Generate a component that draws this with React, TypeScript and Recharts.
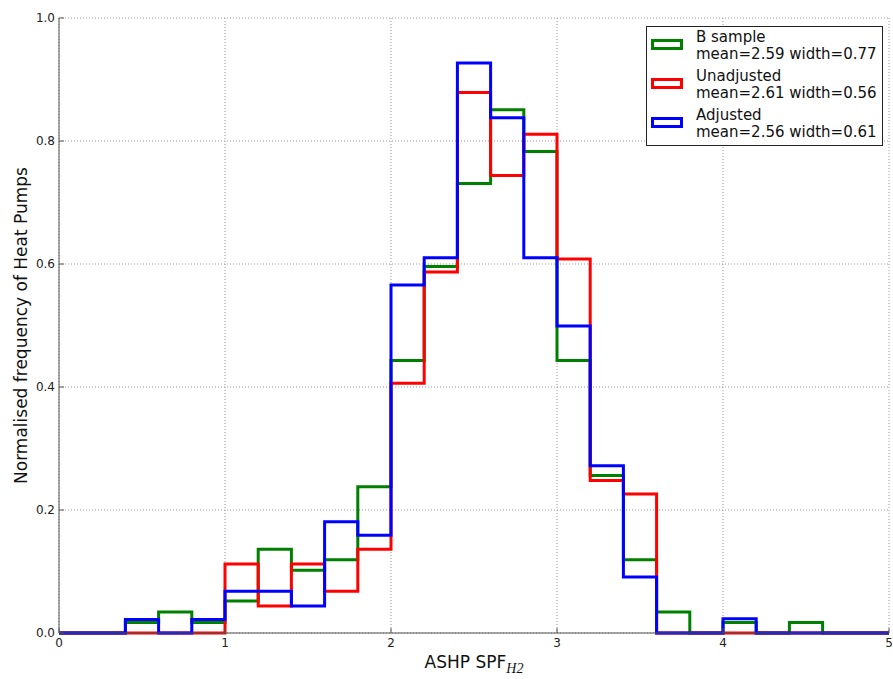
import {
  ComposedChart, Line, XAxis, YAxis, CartesianGrid, Legend,
} from 'recharts'

// bin edges of the histogram (last point closes the final bin)
const BIN_EDGES = [
  0, 0.2, 0.4, 0.6, 0.8, 1.0, 1.2, 1.4, 1.6, 1.8, 2.0, 2.2, 2.4,
  2.6, 2.8, 3.0, 3.2, 3.4, 3.6, 3.8, 4.0, 4.2, 4.4, 4.6, 4.8, 5.0,
]

// normalised frequency per bin
const B_SAMPLE = [
  0, 0, 0.017, 0.034, 0.017, 0.052, 0.136, 0.102, 0.119, 0.238,
  0.443, 0.596, 0.731, 0.851, 0.783, 0.443, 0.256, 0.119, 0.034, 0,
  0.017, 0, 0.017, 0, 0, 0,
]
const UNADJUSTED = [
  0, 0, 0, 0, 0, 0.112, 0.044, 0.112, 0.068, 0.136,
  0.406, 0.587, 0.879, 0.744, 0.811, 0.608, 0.248, 0.226, 0, 0,
  0, 0, 0, 0, 0, 0,
]
const ADJUSTED = [
  0, 0, 0.022, 0, 0.022, 0.068, 0.068, 0.044, 0.181, 0.159,
  0.566, 0.610, 0.927, 0.838, 0.610, 0.499, 0.272, 0.091, 0, 0,
  0.023, 0, 0, 0, 0, 0,
]

const X_TICKS = [0, 1, 2, 3, 4, 5]
const Y_TICKS = [0, 0.2, 0.4, 0.6, 0.8, 1.0]

const SERIES = [
  { key: 'bSample', name: 'B sample', stats: 'mean=2.59 width=0.77', color: '#008000', values: B_SAMPLE },
  { key: 'unadjusted', name: 'Unadjusted', stats: 'mean=2.61 width=0.56', color: '#ff0000', values: UNADJUSTED },
  { key: 'adjusted', name: 'Adjusted', stats: 'mean=2.56 width=0.61', color: '#0000ff', values: ADJUSTED },
]

const data = BIN_EDGES.map((x, i) => ({
  x,
  ...Object.fromEntries(SERIES.map(s => [s.key, s.values[i]])),
}))

const FONT = '"DejaVu Sans", sans-serif'
const FRAME = '#555'

function XLabel({ viewBox }: any) {
  const cx = viewBox.x + viewBox.width / 2
  return (
    <text x={cx} y={668} textAnchor="middle" fontFamily={FONT} fontSize={17} fill="#111">
      ASHP SPF
      <tspan fontFamily='"Liberation Serif", serif' fontStyle="italic" fontSize={14} dy={5}>H2</tspan>
    </text>
  )
}

function YLabel() {
  return (
    <text
      x={21} y={325.5}
      transform="rotate(-90, 21, 325.5)"
      textAnchor="middle" dominantBaseline="central"
      fontFamily={FONT} fontSize={17} fill="#111"
    >
      Normalised frequency of Heat Pumps
    </text>
  )
}

function LegendBox() {
  return (
    <div style={{
      boxSizing: 'border-box', width: 237, height: 120,
      border: '1px solid #222', background: '#fff', position: 'relative',
      fontFamily: FONT, fontSize: 15, lineHeight: '16.6px', color: '#111',
    }}>
      {SERIES.map((s, i) => (
        <div key={s.key} style={{ position: 'absolute', left: 0, top: 2.2 + i * 39, width: '100%' }}>
          <div style={{
            position: 'absolute', left: 4, top: 10, width: 32, height: 11,
            boxSizing: 'border-box', border: `3px solid ${s.color}`,
          }} />
          <div style={{ position: 'absolute', left: 49, top: 0, whiteSpace: 'nowrap' }}>
            <div>{s.name}</div>
            <div>{s.stats}</div>
          </div>
        </div>
      ))}
    </div>
  )
}

export default function App() {
  return (
    <div style={{ position: 'absolute', left: 0, top: 0, width: 893, height: 679, background: '#fff' }}>
      <ComposedChart width={893} height={679} data={data} margin={{ top: 18, right: 4, bottom: 0, left: 0 }}>
        <CartesianGrid stroke="#999" strokeDasharray="1 2" />
        <XAxis
          dataKey="x" type="number" domain={[0, 5]} ticks={X_TICKS}
          height={46} tickSize={-5} tickMargin={10}
          stroke={FRAME} axisLine={{ stroke: FRAME }}
          tick={{ fontSize: 12, fontFamily: FONT, fill: '#222' }}
          label={<XLabel />}
        />
        <XAxis
          xAxisId="top" orientation="top" dataKey="x" type="number" domain={[0, 5]} ticks={X_TICKS}
          height={0} tickSize={-5} tick={false} stroke={FRAME}
        />
        <YAxis
          type="number" domain={[0, 1]} ticks={Y_TICKS}
          width={59} tickSize={-5} tickMargin={9}
          tickFormatter={(v: number) => v.toFixed(1)}
          stroke={FRAME}
          tick={{ fontSize: 12, fontFamily: FONT, fill: '#222' }}
          label={<YLabel />}
        />
        <YAxis
          yAxisId="right" orientation="right" type="number" domain={[0, 1]} ticks={Y_TICKS}
          width={0} tickSize={-5} tick={false} stroke={FRAME}
        />
        <Legend
          layout="vertical" align="center" verticalAlign="middle"
          wrapperStyle={{ left: 646, top: 26, width: 237, height: 120 }}
          content={() => <LegendBox />}
        />
        {SERIES.map(s => (
          <Line
            key={s.key}
            type="stepAfter"
            dataKey={s.key}
            name={s.name}
            stroke={s.color}
            strokeWidth={3}
            strokeLinejoin="miter"
            dot={false}
            activeDot={false}
            isAnimationActive={false}
          />
        ))}
      </ComposedChart>
    </div>
  )
}
